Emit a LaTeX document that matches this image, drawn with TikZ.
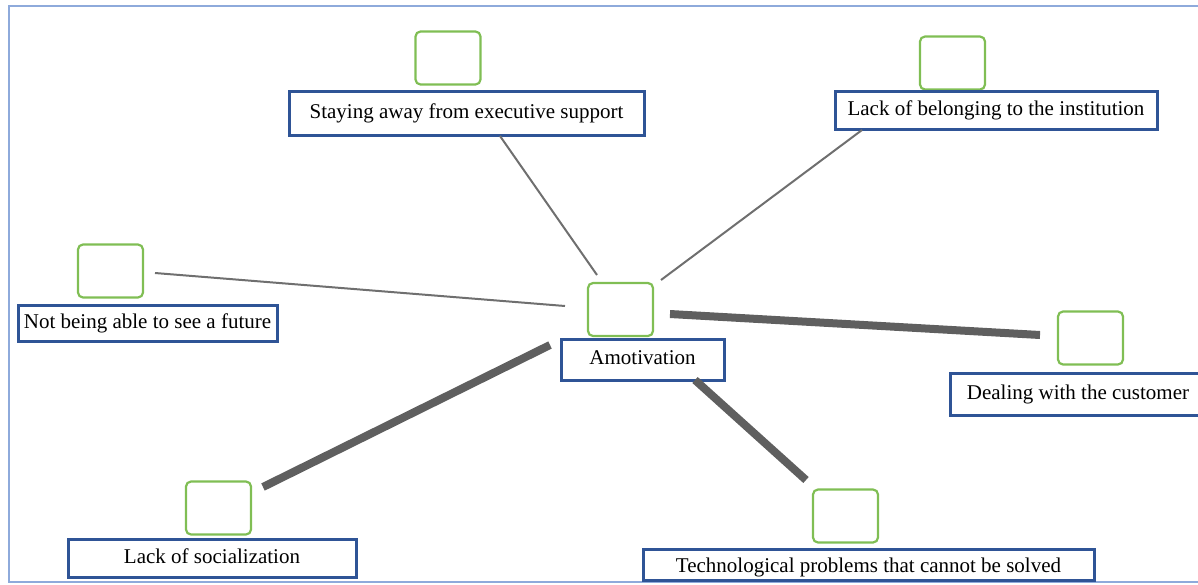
\documentclass[tikz,border=0pt]{standalone}
\usepackage{fontspec}
\setmainfont{Liberation Serif}
\definecolor{framecol}{RGB}{142,170,219}
\definecolor{boxblue}{RGB}{47,84,150}
\definecolor{leafgreen}{RGB}{128,190,84}
\definecolor{linkgray}{RGB}{95,95,95}
\begin{document}
\begin{tikzpicture}[x=0.5pt,y=-0.5pt,
  label box/.style={draw=boxblue, line width=1.5pt, fill=white, inner sep=0pt,
    font=\fontsize{10.5}{12}\selectfont, text height=7.2pt, text depth=2.2pt},
  marker/.style={draw=leafgreen, line width=1.1pt, rounded corners=2.5pt,
    minimum width=32.5pt, minimum height=26.5pt, inner sep=0pt},
  thin link/.style={draw=linkgray!90, line width=1pt},
  thick link/.style={draw=linkgray, line width=4pt}]
\useasboundingbox (0,0) rectangle (1198,584);
% outer frame
\draw[framecol, line width=1pt] (9,6) rectangle (1215,582);

% empty green markers
\node[marker] (m1) at (448,58) {};
\node[marker] (m2) at (952.5,63) {};
\node[marker] (m3) at (110.5,271) {};
\node[marker] (m4) at (620.5,309.5) {};
\node[marker] (m5) at (1090.5,338) {};
\node[marker] (m6) at (218.5,508) {};
\node[marker] (m7) at (845.5,516) {};

% labelled boxes
\node[label box, minimum width=177.5pt, minimum height=22pt] (staying) at (466.5,113) {Staying away from executive support};
\node[label box, minimum width=161pt, minimum height=19pt] (belong) at (996,110) {Lack of belonging to the institution};
\node[label box, minimum width=129.5pt, minimum height=18pt] (future) at (147.5,323) {Not being able to see a future};
\node[label box, minimum width=81.5pt, minimum height=20.5pt] (amot) at (642.5,359.5) {Amotivation};
\node[label box, minimum width=128pt, minimum height=21pt] (dealing) at (1078,394) {Dealing with the customer};
\node[label box, minimum width=144pt, minimum height=19pt] (social) at (212,558) {Lack of socialization};
\node[label box, minimum width=225.5pt, minimum height=15.5pt, text height=10pt] (tech) at (868.5,564.5) {Technological problems that cannot be solved};

% free ends of the links
\coordinate (c1) at (597,275);
\coordinate (c2) at (661,280);
\coordinate (f1) at (155,273);
\coordinate (c3) at (565,306);
\coordinate (c4) at (670,314);
\coordinate (d1) at (1040,335);
\coordinate (c5) at (550,345);
\coordinate (s1) at (263,487);
\coordinate (c6) at (695,380);
\coordinate (t1) at (806,480);
\coordinate (st) at (500,136);
\coordinate (bl) at (862,130);

% links
\draw[thin link] (st) -- (c1);
\draw[thin link] (bl) -- (c2);
\draw[thin link] (f1) -- (c3);
\draw[thick link] (c4) -- (d1);
\draw[thick link] (c5) -- (s1);
\draw[thick link] (c6) -- (t1);
\end{tikzpicture}
\end{document}
